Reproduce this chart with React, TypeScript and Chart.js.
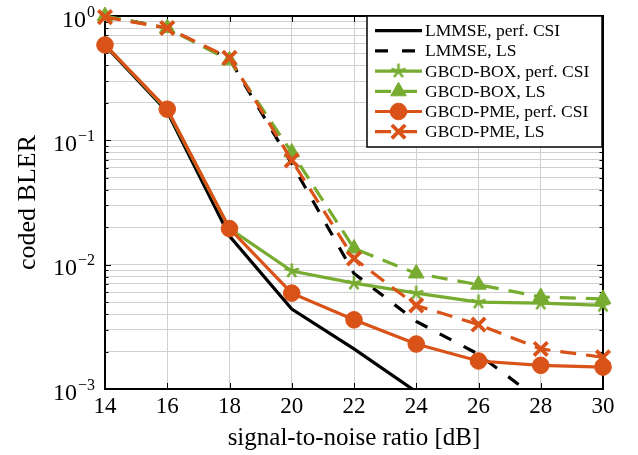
import { useEffect, useRef } from 'react';
import { Chart, registerables } from 'chart.js';

Chart.register(...registerables);

// ---- data ----
const snr = [14, 16, 18, 20, 22, 24, 26, 28, 30];
const lmmsePerfCsi = [0.58, 0.17, 0.017, 0.0044, 0.0021, 0.00095, 0.0004, 0.0002, 0.0001];
const lmmseLs = [1.0, 0.8, 0.45, 0.065, 0.0085, 0.0035, 0.0019, 0.0008, 0.0004];
const boxPerfCsi = [0.59, 0.175, 0.0195, 0.0089, 0.0071, 0.0059, 0.005, 0.0049, 0.0047];
const boxLs = [1.0, 0.8, 0.44, 0.08, 0.0135, 0.0085, 0.0069, 0.0055, 0.0053];
const pmePerfCsi = [0.585, 0.178, 0.0195, 0.0059, 0.0036, 0.0023, 0.00168, 0.00155, 0.0015];
const pmeLs = [0.98, 0.8, 0.46, 0.069, 0.0112, 0.0047, 0.0033, 0.0021, 0.0018];

const seriesLabels = [
  'LMMSE, perf. CSI',
  'LMMSE, LS',
  'GBCD-BOX, perf. CSI',
  'GBCD-BOX, LS',
  'GBCD-PME, perf. CSI',
  'GBCD-PME, LS',
];

const xTitle = 'signal-to-noise ratio [dB]';
const yTitle = 'coded BLER';
const yMajorValues = [0.001, 0.01, 0.1, 1];
const yMajorExponents = ['\u22123', '\u22122', '\u22121', '0'];
const yMantissas = [1, 2, 3, 4, 5, 6, 7, 8, 9];

const GREEN = '#77AC30';
const ORANGE = '#D95319';
const FONT = "'Liberation Serif', 'DejaVu Serif', serif";

function makeStar(color: string): HTMLCanvasElement {
  const c = document.createElement('canvas');
  c.width = 20;
  c.height = 20;
  const g = c.getContext('2d')!;
  g.strokeStyle = color;
  g.lineWidth = 2.6;
  g.lineCap = 'butt';
  const r = 7.5;
  g.beginPath();
  for (let i = 0; i < 5; i++) {
    const a = -Math.PI / 2 + (i * 2 * Math.PI) / 5;
    g.moveTo(10, 10);
    g.lineTo(10 + r * Math.cos(a), 10 + r * Math.sin(a));
  }
  g.stroke();
  return c;
}

function drawMarker(ctx: CanvasRenderingContext2D, ds: any, x: number, y: number) {
  const style = ds.pointStyle;
  const r = ds.pointRadius || 0;
  if (!r) return;
  ctx.save();
  ctx.fillStyle = ds.pointBackgroundColor || ds.borderColor;
  ctx.strokeStyle = ds.pointBorderColor || ds.borderColor;
  ctx.lineWidth = ds.pointBorderWidth || 1;
  ctx.setLineDash([]);
  if (typeof style === 'object' && style) {
    ctx.drawImage(style, x - style.width / 2, y - style.height / 2);
  } else if (style === 'circle') {
    ctx.beginPath();
    ctx.arc(x, y, r, 0, Math.PI * 2);
    ctx.fill();
    ctx.stroke();
  } else if (style === 'triangle') {
    ctx.beginPath();
    for (let i = 0; i < 3; i++) {
      const a = (i * 2 * Math.PI) / 3;
      const px = x + Math.sin(a) * r;
      const py = y - Math.cos(a) * r;
      if (i === 0) ctx.moveTo(px, py);
      else ctx.lineTo(px, py);
    }
    ctx.closePath();
    ctx.fill();
    ctx.stroke();
  } else if (style === 'crossRot') {
    const d = r * Math.SQRT1_2;
    ctx.beginPath();
    ctx.moveTo(x - d, y - d);
    ctx.lineTo(x + d, y + d);
    ctx.moveTo(x + d, y - d);
    ctx.lineTo(x - d, y + d);
    ctx.stroke();
  }
  ctx.restore();
}

const framePlugin = {
  id: 'frameTicks',
  beforeDatasetsDraw(chart: any) {
    const { ctx, chartArea: a, scales } = chart;
    ctx.save();
    ctx.strokeStyle = '#000';
    ctx.lineWidth = 1;
    ctx.beginPath();
    scales.y.ticks.forEach((t: any) => {
      const py = Math.round(scales.y.getPixelForValue(t.value)) + 0.5;
      const len = t.major ? 6 : 3.5;
      ctx.moveTo(a.left, py);
      ctx.lineTo(a.left + len, py);
      ctx.moveTo(a.right, py);
      ctx.lineTo(a.right - len, py);
    });
    scales.x.ticks.forEach((t: any) => {
      const px = Math.round(scales.x.getPixelForValue(t.value)) + 0.5;
      ctx.moveTo(px, a.top);
      ctx.lineTo(px, a.top + 6);
      ctx.moveTo(px, a.bottom);
      ctx.lineTo(px, a.bottom - 6);
    });
    ctx.stroke();
    ctx.lineWidth = 2;
    ctx.strokeRect(a.left, a.top, a.right - a.left, a.bottom - a.top);
    ctx.restore();
  },
};

const yLabelPlugin = {
  id: 'yLabels',
  afterDraw(chart: any) {
    const { ctx, scales } = chart;
    ctx.save();
    ctx.fillStyle = '#000';
    ctx.textBaseline = 'alphabetic';
    ctx.textAlign = 'left';
    const right = 95;
    yMajorValues.forEach((v, i) => {
      const py = scales.y.getPixelForValue(v);
      ctx.font = `16px ${FONT}`;
      const ew = ctx.measureText(yMajorExponents[i]).width;
      ctx.font = `24px ${FONT}`;
      const bw = ctx.measureText('10').width;
      const x0 = right - ew - bw - 1;
      ctx.fillText('10', x0, py + 10.5);
      ctx.font = `16px ${FONT}`;
      ctx.fillText(yMajorExponents[i], x0 + bw + 1, py + 0.5);
    });
    ctx.restore();
  },
};

const legendPlugin = {
  id: 'customLegend',
  afterDraw(chart: any) {
    const { ctx } = chart;
    const dss = chart.data.datasets;
    const box = { x: 367, y: 16, w: 235, h: 131 };
    ctx.save();
    ctx.fillStyle = '#fff';
    ctx.fillRect(box.x, box.y, box.w, box.h);
    ctx.strokeStyle = '#000';
    ctx.lineWidth = 1.5;
    ctx.strokeRect(box.x, box.y, box.w, box.h);
    dss.forEach((ds: any, i: number) => {
      const cy = box.y + 14.7 + i * 20.2;
      ctx.save();
      ctx.strokeStyle = ds.borderColor;
      ctx.lineWidth = ds.borderWidth;
      ctx.setLineDash(ds.borderDash || []);
      ctx.beginPath();
      ctx.moveTo(375, cy);
      ctx.lineTo(422, cy);
      ctx.stroke();
      ctx.restore();
      drawMarker(ctx, ds, 398.5, cy);
      ctx.fillStyle = '#000';
      ctx.font = `17.5px ${FONT}`;
      ctx.textBaseline = 'middle';
      ctx.textAlign = 'left';
      ctx.fillText(ds.label, 425, cy + 1);
    });
    ctx.restore();
  },
};

export default function App() {
  const ref = useRef<HTMLCanvasElement | null>(null);

  useEffect(() => {
    document.body.style.margin = '0';
    const canvas = ref.current!;
    const star = makeStar(GREEN);
    const toPts = (arr: number[]) => arr.map((v, i) => ({ x: snr[i], y: v }));
    const chart = new Chart(canvas, {
      type: 'line',
      data: {
        datasets: [
          {
            label: seriesLabels[0],
            data: toPts(lmmsePerfCsi),
            borderColor: '#000',
            borderWidth: 3.2,
            pointRadius: 0,
            order: 6,
          },
          {
            label: seriesLabels[1],
            data: toPts(lmmseLs),
            borderColor: '#000',
            borderWidth: 3.2,
            borderDash: [13, 14],
            pointRadius: 0,
            order: 5,
          },
          {
            label: seriesLabels[2],
            data: toPts(boxPerfCsi),
            borderColor: GREEN,
            borderWidth: 3.2,
            pointStyle: star,
            pointRadius: 7,
            pointBorderColor: GREEN,
            pointBackgroundColor: GREEN,
            clip: false,
            order: 4,
          },
          {
            label: seriesLabels[3],
            data: toPts(boxLs),
            borderColor: GREEN,
            borderWidth: 3.2,
            borderDash: [16, 10],
            pointStyle: 'triangle',
            pointRadius: 9,
            pointBorderWidth: 1,
            pointBorderColor: GREEN,
            pointBackgroundColor: GREEN,
            clip: false,
            order: 3,
          },
          {
            label: seriesLabels[4],
            data: toPts(pmePerfCsi),
            borderColor: ORANGE,
            borderWidth: 3.2,
            pointStyle: 'circle',
            pointRadius: 8.3,
            pointBorderWidth: 1,
            pointBorderColor: ORANGE,
            pointBackgroundColor: ORANGE,
            clip: false,
            order: 2,
          },
          {
            label: seriesLabels[5],
            data: toPts(pmeLs),
            borderColor: ORANGE,
            borderWidth: 3.2,
            borderDash: [16, 10],
            pointStyle: 'crossRot',
            pointRadius: 9.5,
            pointBorderWidth: 3.8,
            pointBorderColor: ORANGE,
            pointBackgroundColor: ORANGE,
            clip: false,
            order: 1,
          },
        ] as any,
      },
      options: {
        animation: false,
        responsive: false,
        maintainAspectRatio: false,
        devicePixelRatio: 1,
        layout: { padding: { left: 0, right: 35, top: 16, bottom: 0 } },
        elements: { line: { tension: 0 } },
        plugins: {
          legend: { display: false },
          tooltip: { enabled: false },
        },
        scales: {
          x: {
            type: 'linear',
            min: 14,
            max: 30,
            ticks: {
              stepSize: 2,
              color: '#000',
              font: { family: FONT, size: 23 },
              padding: 4,
              maxRotation: 0,
            },
            grid: { color: '#d0d0d0', lineWidth: 1, drawTicks: false },
            border: { display: false },
            title: {
              display: true,
              text: xTitle,
              color: '#000',
              font: { family: FONT, size: 25 },
              padding: { top: 0, bottom: 2 },
            },
            afterFit(scale: any) {
              scale.height = 66;
            },
          },
          y: {
            type: 'logarithmic',
            min: 0.001,
            max: 1,
            afterBuildTicks(scale: any) {
              const ticks: any[] = [];
              yMajorValues.forEach((dec, di) => {
                if (di === yMajorValues.length - 1) {
                  ticks.push({ value: dec, major: true });
                  return;
                }
                yMantissas.forEach((m) => {
                  ticks.push({ value: +(m * dec).toPrecision(3), major: m === 1 });
                });
              });
              scale.ticks = ticks;
            },
            ticks: { display: false, autoSkip: false },
            grid: { color: '#d0d0d0', lineWidth: 1, drawTicks: false },
            border: { display: false },
            title: {
              display: true,
              text: yTitle,
              color: '#000',
              font: { family: FONT, size: 26 },
              padding: { top: 13, bottom: 0 },
            },
            afterFit(scale: any) {
              scale.width = 105;
            },
          },
        },
      } as any,
      plugins: [framePlugin, yLabelPlugin, legendPlugin],
    });
    return () => chart.destroy();
  }, []);

  return (
    <div style={{ width: 638, height: 455 }}>
      <canvas ref={ref} width={638} height={455} style={{ display: 'block' }} />
    </div>
  );
}
